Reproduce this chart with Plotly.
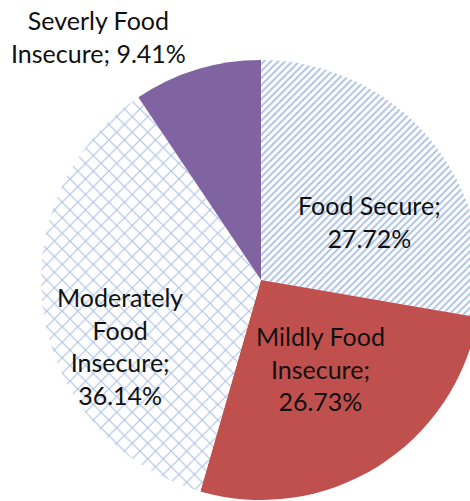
import plotly.graph_objects as go

# Food security distribution (percent of households)
labels = ["Food Secure", "Mildly Food Insecure", "Moderately Food Insecure", "Severly Food Insecure"]
values = [27.72, 26.73, 36.14, 9.41]

# how each category name is wrapped in its label, and what joins name and value
wrapped_names = ["Food Secure;", "Mildly Food<br>Insecure;", "Moderately<br>Food<br>Insecure;", "Severly Food<br>Insecure;"]
value_joins = ["<br>", "<br>", "<br>", " "]

slice_colors = ["white", "#c0504d", "white", "#8064a2"]
pattern_shapes = ["/", "", "x", ""]
pattern_sizes = [5, 8, 11, 8]
pattern_solidity = [0.4, 0.2, 0.2, 0.2]

W, H = 490, 501
cx, cy, r = 261, 280, 220  # pie centre and radius in pixels

fig = go.Figure(go.Pie(
    labels=labels,
    values=values,
    sort=False,
    direction="clockwise",
    rotation=0,
    textinfo="none",
    hoverinfo="label+percent",
    marker=dict(
        colors=slice_colors,
        line=dict(width=0),
        pattern=dict(
            shape=pattern_shapes,
            fgcolor="#5a86c8",
            bgcolor="white",
            size=pattern_sizes,
            solidity=pattern_solidity,
            fillmode="overlay",
        ),
    ),
    domain=dict(x=[(cx - r) / W, (cx + r) / W],
                y=[(H - cy - r) / H, (H - cy + r) / H]),
    showlegend=False,
))

# label block centres (pixels from top-left)
label_pos = [(369, 222), (320, 368), (120, 346), (98, 36)]

for name, join, v, (px, py) in zip(wrapped_names, value_joins, values, label_pos):
    fig.add_annotation(
        text=f"{name}{join}{v:.2f}%",
        x=px / W, y=1 - py / H, xref="paper", yref="paper",
        xanchor="center", yanchor="middle", showarrow=False,
        align="center",
        font=dict(family="Lato, 'Open Sans', sans-serif", size=25, color="#111111"),
    )

fig.update_layout(
    width=W, height=H,
    margin=dict(l=0, r=0, t=0, b=0),
    paper_bgcolor="white",
    plot_bgcolor="white",
)

fig.write_html(
    "out.html",
    post_script="document.body.style.overflow='hidden';document.documentElement.style.overflow='hidden';document.body.style.margin='0';",
)
